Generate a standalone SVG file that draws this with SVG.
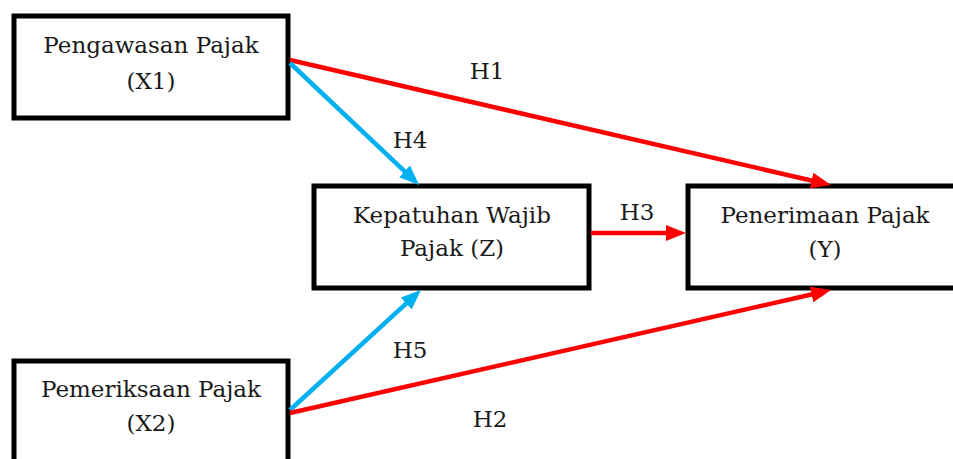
<svg xmlns="http://www.w3.org/2000/svg" width="953" height="459" viewBox="0 0 953 459">
<style>
.box{fill:#fff;stroke:#000;stroke-width:5}
.t{font-family:"DejaVu Serif","Liberation Serif",serif;font-size:23px;fill:#1a1a1a;text-anchor:middle}
.red{stroke:#ff0000;stroke-width:4.5;fill:none}
.blue{stroke:#00b0f0;stroke-width:4.5;fill:none}
</style>
<defs>
<marker id="ar" viewBox="0 0 20 16" refX="2" refY="8" markerWidth="20" markerHeight="16" markerUnits="userSpaceOnUse" orient="auto"><path d="M0,0 L20,8 L0,16 z" fill="#ff0000"/></marker>
<marker id="ab" viewBox="0 0 20 16" refX="2" refY="8" markerWidth="20" markerHeight="16" markerUnits="userSpaceOnUse" orient="auto"><path d="M0,0 L20,8 L0,16 z" fill="#00b0f0"/></marker>
</defs>
<rect width="953" height="459" fill="#fff"/>
<g id="X1"><rect class="box" x="14" y="16" width="274" height="102"/><text class="t" x="151" y="53">Pengawasan Pajak</text><text class="t" x="151" y="89">(X1)</text></g>
<g id="Z"><rect class="box" x="314" y="186" width="275" height="102"/><text class="t" x="452" y="223">Kepatuhan Wajib</text><text class="t" x="452" y="256">Pajak (Z)</text></g>
<g id="Y"><rect class="box" x="688" y="186" width="272" height="102"/><text class="t" x="825" y="223">Penerimaan Pajak</text><text class="t" x="825" y="257">(Y)</text></g>
<g id="X2"><rect class="box" x="14" y="361" width="274" height="102"/><text class="t" x="151" y="397">Pemeriksaan Pajak</text><text class="t" x="151" y="431">(X2)</text></g>
<g id="connectors">
<line class="red" x1="290" y1="60" x2="813.5" y2="181" marker-end="url(#ar)"/>
<line class="blue" x1="290" y1="63" x2="406" y2="172.7" marker-end="url(#ab)"/>
<line class="red" x1="591" y1="233" x2="668" y2="233" marker-end="url(#ar)"/>
<line class="blue" x1="290" y1="410" x2="407.7" y2="302.2" marker-end="url(#ab)"/>
<line class="red" x1="290" y1="413" x2="813.5" y2="294" marker-end="url(#ar)"/>
<text class="t" x="487" y="79">H1</text>
<text class="t" x="410" y="148">H4</text>
<text class="t" x="637" y="220">H3</text>
<text class="t" x="410" y="358">H5</text>
<text class="t" x="490" y="427">H2</text>
</g>
</svg>
